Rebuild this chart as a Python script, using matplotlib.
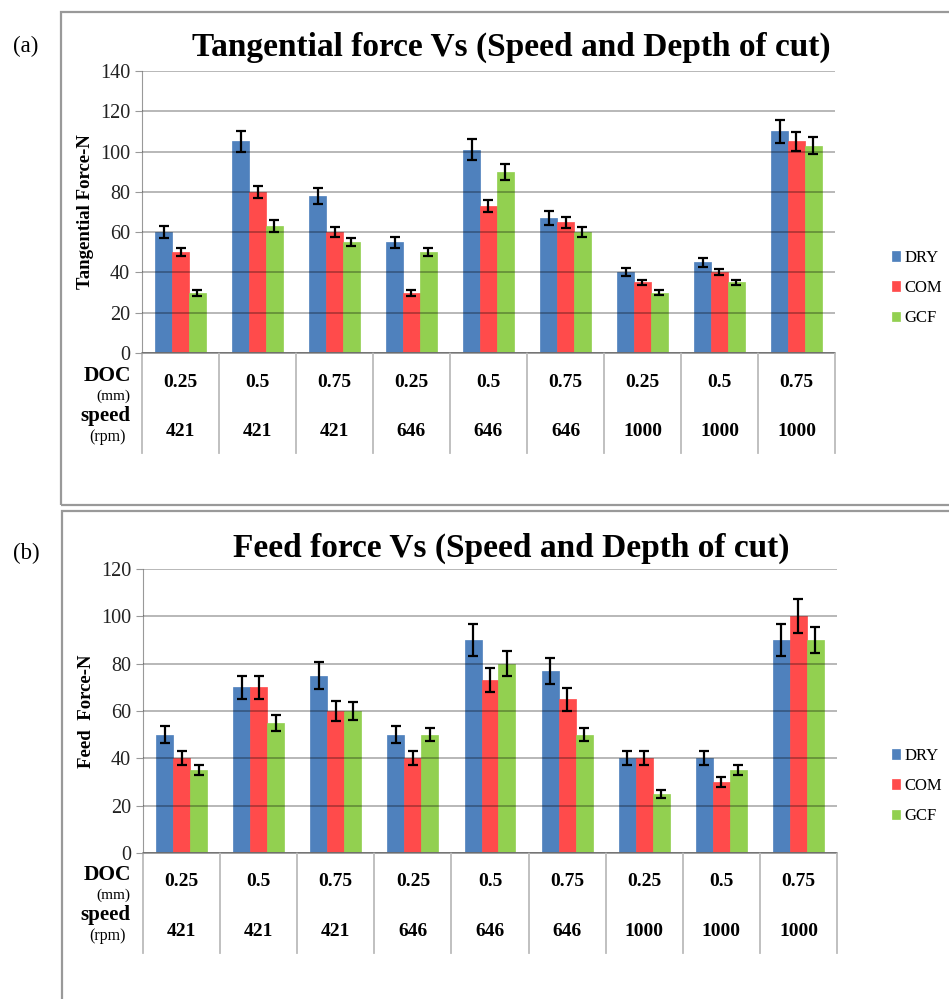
import matplotlib
matplotlib.use("Agg")
import matplotlib.pyplot as plt
from matplotlib.patches import Rectangle
import numpy as np

plt.rcParams['font.family'] = ['Liberation Serif', 'DejaVu Serif']

# conditions (table under the bars)
doc = ['0.25', '0.5', '0.75', '0.25', '0.5', '0.75', '0.25', '0.5', '0.75']
speed = ['421', '421', '421', '646', '646', '646', '1000', '1000', '1000']
series = ['DRY', 'COM', 'GCF']
colors = ['#4F81BD', '#FF4B4B', '#92D050']

# (a) tangential force, N
tan_dry = [60, 105, 78, 55, 101, 67, 40, 45, 110]
tan_com = [50, 80, 60, 30, 73, 65, 35, 40, 105]
tan_gcf = [30, 63, 55, 50, 90, 60, 30, 35, 103]
tan_dry_err = [3, 5.3, 3.9, 2.7, 5, 3.3, 2, 2.3, 5.6]
tan_com_err = [2, 3, 2.5, 1.5, 3, 2.7, 1.3, 1.5, 4.8]
tan_gcf_err = [1.5, 3, 2, 2, 4, 2.6, 1.4, 1.2, 4.3]

# (b) feed force, N
feed_dry = [50, 70, 75, 50, 90, 77, 40, 40, 90]
feed_com = [40, 70, 60, 40, 73, 65, 40, 30, 100]
feed_gcf = [35, 55, 60, 50, 80, 50, 25, 35, 90]
feed_dry_err = [3.5, 5, 5.5, 3.5, 6.7, 5.5, 3, 3, 6.9]
feed_com_err = [3, 5, 4.4, 3, 5, 4.9, 3, 2.1, 7.2]
feed_gcf_err = [2, 3.4, 3.8, 2.7, 5.3, 2.7, 1.7, 2.2, 5.4]

W, H = 949, 999
fig = plt.figure(figsize=(W / 100, H / 100), dpi=100)


def fx(px):
    return px / W


def fy(py):
    return 1 - py / H


def panel(box, vals, errs, ymax, ylabel, title, tag, title_y, tag_y, legend_y, rows_y, tbl_bottom):
    left, top, right, bottom = box
    ax = fig.add_axes([fx(left), fy(bottom), fx(right) - fx(left), fy(top) - fy(bottom)])
    x = np.arange(len(doc))
    w = 0.22
    handles = []
    for i, (v, e) in enumerate(zip(vals, errs)):
        b = ax.bar(x + (i - 1) * w, v, w, color=colors[i], edgecolor=colors[i], lw=0.5,
                   yerr=e, capsize=3.5, error_kw=dict(ecolor='black', elinewidth=1.6, capthick=1.6),
                   label=series[i], zorder=2)
        handles.append(b)
    ax.set_xlim(-0.5, len(doc) - 0.5)
    ax.set_ylim(0, ymax)
    ax.set_yticks(np.arange(0, ymax + 1, 20))
    ax.yaxis.grid(True, color='black', alpha=0.3, lw=1.3)
    ax.set_axisbelow(False)
    for s in ['top', 'right', 'bottom']:
        ax.spines[s].set_visible(False)
    ax.spines['left'].set_color('#999999')
    ax.set_xticks([])
    ax.tick_params(axis='y', colors='#999999', length=5, labelsize=14.5, labelcolor='#222222')
    ax.set_ylabel(ylabel, fontsize=13.5, fontweight='bold', labelpad=4)

    # table under the axis
    trans = ax.get_xaxis_transform()
    ax.plot([-0.5, len(doc) - 0.5], [0, 0], color='#999999', lw=1.3, transform=trans, clip_on=False)
    for b in np.arange(-0.5, len(doc), 1.0):
        ax.plot([b, b], [0, tbl_bottom], color='#BBBBBB', lw=1.3, transform=trans, clip_on=False)
    for i in range(len(doc)):
        ax.text(i, rows_y[0], doc[i], transform=trans, ha='center', va='center',
                fontsize=14, fontweight='bold')
        ax.text(i, rows_y[1], speed[i], transform=trans, ha='center', va='center',
                fontsize=14, fontweight='bold')

    ax.legend(handles=handles, loc='center left', bbox_to_anchor=(fx(880), fy(legend_y)),
              bbox_transform=fig.transFigure, frameon=False, fontsize=12,
              handlelength=0.5, handleheight=0.5, handletextpad=0.25, labelspacing=0.85,
              borderpad=0.2)

    fig.text(fx(511), fy(title_y), title, ha='center', va='center', fontsize=24, fontweight='bold')
    fig.text(fx(26), fy(tag_y), tag, ha='center', va='center', fontsize=16.5)
    return ax


panel((142, 71, 835, 353), [tan_dry, tan_com, tan_gcf], [tan_dry_err, tan_com_err, tan_gcf_err],
      140, 'Tangential Force-N', 'Tangential force Vs (Speed and Depth of cut)', '(a)',
      47, 46, 288, (-0.103, -0.280), -0.355)
panel((143, 569, 837, 853), [feed_dry, feed_com, feed_gcf], [feed_dry_err, feed_com_err, feed_gcf_err],
      120, 'Feed  Force-N', 'Feed force Vs (Speed and Depth of cut)', '(b)',
      548, 553, 786, (-0.099, -0.275), -0.352)

# row captions left of the tables
for off in [0, 499]:
    fig.text(fx(107), fy(376 + off), 'DOC', ha='center', va='center', fontsize=15.5, fontweight='bold')
    fig.text(fx(113), fy(396 + off), '(mm)', ha='center', va='center', fontsize=11)
    fig.text(fx(105), fy(416 + off), 'speed', ha='center', va='center', fontsize=15, fontweight='bold')
    fig.text(fx(107), fy(437 + off), '(rpm)', ha='center', va='center', fontsize=11.5)

# outer frames
fig.patches.append(Rectangle((fx(61), fy(505)), fx(1000), fy(12) - fy(505), transform=fig.transFigure,
                             fill=False, edgecolor='#999999', lw=1.6))
fig.patches.append(Rectangle((fx(62), fy(1050)), fx(1000), fy(511) - fy(1050), transform=fig.transFigure,
                             fill=False, edgecolor='#999999', lw=1.6))

fig.savefig('out.png', dpi=100)
